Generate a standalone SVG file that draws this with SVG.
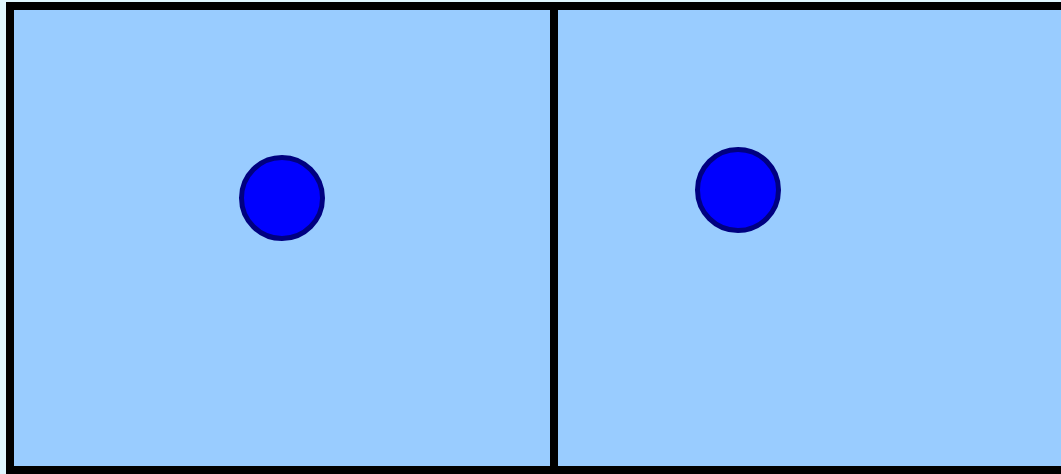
<svg xmlns="http://www.w3.org/2000/svg" width="1061" height="474" viewBox="0 0 1061 474">
<style>
.panel{fill:#99ccff;stroke:#000000;stroke-width:8}
.dot{fill:#0000ff;stroke:#000080;stroke-width:5}
</style>
<rect x="0" y="0" width="1061" height="474" fill="#e0f7ff"/>
<g id="panel-left">
<rect class="panel" x="10" y="6" width="544" height="464"/>
<circle class="dot" cx="282" cy="198" r="40.5"/>
</g>
<g id="panel-right">
<rect class="panel" x="554" y="6" width="520" height="464"/>
<circle class="dot" cx="738" cy="190" r="40.5"/>
</g>
<g id="connectors"></g>
</svg>
